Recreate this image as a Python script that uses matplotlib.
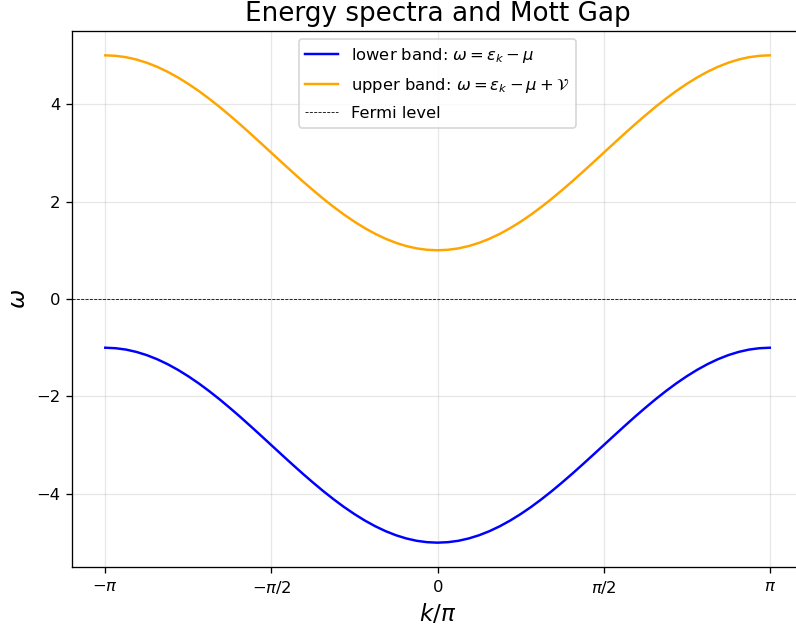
import numpy as np
import matplotlib
matplotlib.use("Agg")
import matplotlib.pyplot as plt

# k in units of pi, sampled every pi/32
k_over_pi = [j / 32 for j in range(-32, 33)]

# values read from k = 0 out to k = pi (bands are symmetric in k)
lower_half = [-5.000, -4.990, -4.962, -4.914, -4.848, -4.764, -4.663, -4.546, -4.414,
              -4.269, -4.111, -3.943, -3.765, -3.581, -3.390, -3.196, -3.000,
              -2.804, -2.610, -2.419, -2.235, -2.057, -1.889, -1.731, -1.586,
              -1.454, -1.337, -1.236, -1.152, -1.086, -1.038, -1.010, -1.000]
upper_half = [1.000, 1.010, 1.038, 1.086, 1.152, 1.236, 1.337, 1.454, 1.586,
              1.731, 1.889, 2.057, 2.235, 2.419, 2.610, 2.804, 3.000,
              3.196, 3.390, 3.581, 3.765, 3.943, 4.111, 4.269, 4.414,
              4.546, 4.663, 4.764, 4.848, 4.914, 4.962, 4.990, 5.000]
lower_band = lower_half[::-1] + lower_half[1:]
upper_band = upper_half[::-1] + upper_half[1:]

fermi_level = 0.0
tick_pos = [-1, -0.5, 0, 0.5, 1]
tick_labels = [r"$-\pi$", r"$-\pi/2$", r"$0$", r"$\pi/2$", r"$\pi$"]

k = np.array(k_over_pi) * np.pi

dpi = 118
fig = plt.figure(figsize=(796 / dpi, 632 / dpi), dpi=dpi)
ax = fig.add_axes([0.0905, 0.1028, 0.9183, 0.8482])

ax.plot(k, lower_band, color="blue", label=r"lower band: $\omega = \varepsilon_k - \mu$")
ax.plot(k, upper_band, color="orange", label=r"upper band: $\omega = \varepsilon_k - \mu + \mathcal{V}$")
ax.axhline(fermi_level, color="black", linestyle="--", linewidth=0.5, label="Fermi level")

ax.set_xticks(np.array(tick_pos) * np.pi)
ax.set_xticklabels(tick_labels)
ax.set_xlabel(r"$k/\pi$", fontsize=14)
ax.set_ylabel(r"$\omega$", fontsize=14)
ax.set_title("Energy spectra and Mott Gap", fontsize=16)
ax.grid(True, alpha=0.3)
ax.legend(loc="upper center", labelspacing=0.68)

fig.savefig("out.png", dpi=dpi)
